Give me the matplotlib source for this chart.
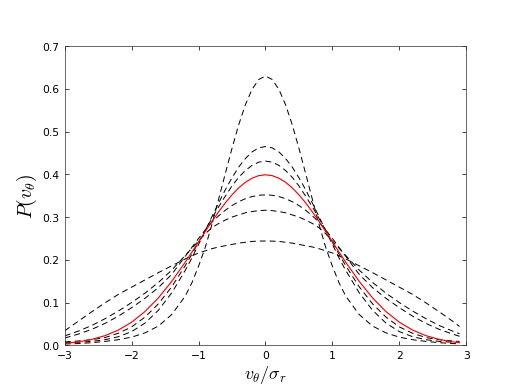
import matplotlib
matplotlib.use("Agg")
import matplotlib.pyplot as plt

# grid along v_theta / sigma_r (finer near the centre)
x = [-3.0, -2.8, -2.6, -2.4, -2.2, -2.0, -1.8, -1.6, -1.4,
     -1.2, -1.1, -1.0, -0.9, -0.8, -0.7, -0.6, -0.5, -0.4, -0.3, -0.2, -0.1,
     0.0,
     0.1, 0.2, 0.3, 0.4, 0.5, 0.6, 0.7, 0.8, 0.9, 1.0, 1.1, 1.2,
     1.4, 1.6, 1.8, 2.0, 2.2, 2.4, 2.6, 2.8, 2.9]

# red reference curve
p_ref = [0.0044, 0.0079, 0.0136, 0.0224, 0.0355, 0.0540, 0.0790, 0.1109, 0.1497,
         0.1942, 0.2179, 0.2420, 0.2661, 0.2897, 0.3123, 0.3332, 0.3521, 0.3683, 0.3814, 0.3910, 0.3970,
         0.3989,
         0.3970, 0.3910, 0.3814, 0.3683, 0.3521, 0.3332, 0.3123, 0.2897, 0.2661, 0.2420, 0.2179, 0.1942,
         0.1497, 0.1109, 0.0790, 0.0540, 0.0355, 0.0224, 0.0136, 0.0079, 0.0060]

# dashed curves, narrowest to widest
p_a = [0.003, 0.004, 0.006, 0.009, 0.013, 0.019, 0.029, 0.045, 0.072,
       0.115, 0.146, 0.185, 0.229, 0.283, 0.342, 0.402, 0.461, 0.516, 0.563, 0.599, 0.622,
       0.630,
       0.622, 0.599, 0.563, 0.516, 0.461, 0.402, 0.342, 0.283, 0.229, 0.185, 0.146, 0.115,
       0.072, 0.045, 0.029, 0.019, 0.013, 0.009, 0.006, 0.004, 0.0035]

p_b = [0.006, 0.007, 0.009, 0.013, 0.020, 0.032, 0.052, 0.082, 0.123,
       0.175, 0.204, 0.236, 0.268, 0.301, 0.333, 0.364, 0.392, 0.417, 0.437, 0.4525, 0.462,
       0.465,
       0.462, 0.4525, 0.437, 0.417, 0.392, 0.364, 0.333, 0.301, 0.268, 0.236, 0.204, 0.175,
       0.123, 0.082, 0.052, 0.032, 0.020, 0.013, 0.009, 0.007, 0.0065]

p_c = [0.008, 0.010, 0.013, 0.018, 0.028, 0.043, 0.066, 0.097, 0.137,
       0.186, 0.213, 0.241, 0.269, 0.297, 0.324, 0.349, 0.373, 0.393, 0.409, 0.421, 0.4285,
       0.431,
       0.4285, 0.421, 0.409, 0.393, 0.373, 0.349, 0.324, 0.297, 0.269, 0.241, 0.213, 0.186,
       0.137, 0.097, 0.066, 0.043, 0.028, 0.018, 0.013, 0.010, 0.009]

p_d = [0.017, 0.026, 0.037, 0.051, 0.068, 0.088, 0.110, 0.135, 0.166,
       0.208, 0.229, 0.250, 0.270, 0.288, 0.303, 0.316, 0.327, 0.336, 0.343, 0.348, 0.351,
       0.352,
       0.351, 0.348, 0.343, 0.336, 0.327, 0.316, 0.303, 0.288, 0.270, 0.250, 0.229, 0.208,
       0.166, 0.135, 0.110, 0.088, 0.068, 0.051, 0.037, 0.026, 0.021]

p_e = [0.022, 0.033, 0.046, 0.062, 0.080, 0.100, 0.122, 0.147, 0.176,
       0.210, 0.227, 0.244, 0.261, 0.275, 0.285, 0.293, 0.300, 0.305, 0.310, 0.313, 0.315,
       0.316,
       0.315, 0.313, 0.310, 0.305, 0.300, 0.293, 0.285, 0.275, 0.261, 0.244, 0.227, 0.210,
       0.176, 0.147, 0.122, 0.100, 0.080, 0.062, 0.046, 0.033, 0.027]

p_f = [0.034, 0.056, 0.078, 0.099, 0.119, 0.136, 0.153, 0.170, 0.186,
       0.202, 0.209, 0.216, 0.221, 0.226, 0.230, 0.233, 0.236, 0.239, 0.241, 0.243, 0.2437,
       0.244,
       0.2437, 0.243, 0.241, 0.239, 0.236, 0.233, 0.230, 0.226, 0.221, 0.216, 0.209, 0.202,
       0.186, 0.170, 0.153, 0.136, 0.119, 0.099, 0.078, 0.056, 0.044]

dashed = [p_a, p_b, p_c, p_d, p_e, p_f]

plt.rcParams['mathtext.fontset'] = 'cm'
plt.rcParams['font.size'] = 12

fig = plt.figure(figsize=(8, 6), dpi=64.75)
ax = fig.add_subplot(111)

for p in dashed:
    ax.plot(x, p, color="black", linestyle="--", linewidth=1.1, dashes=(6, 4))
ax.plot(x, p_ref, color="red", linewidth=1.3)

ax.set_xlim(-3, 3)
ax.set_ylim(0, 0.7)
ax.set_xticks([-3, -2, -1, 0, 1, 2, 3])
ax.set_yticks([0.0, 0.1, 0.2, 0.3, 0.4, 0.5, 0.6, 0.7])
ax.set_yticklabels(["0.0", "0.1", "0.2", "0.3", "0.4", "0.5", "0.6", "0.7"])
ax.tick_params(direction="in", top=True, right=True, length=5, pad=6)
for s in ax.spines.values():
    s.set_color("#333333")

ax.set_xlabel(r"$v_\theta/\sigma_r$", fontsize=20, labelpad=3)
ax.set_ylabel(r"$P(v_\theta)$", fontsize=22)

fig.savefig("out.png", dpi=64.75)
